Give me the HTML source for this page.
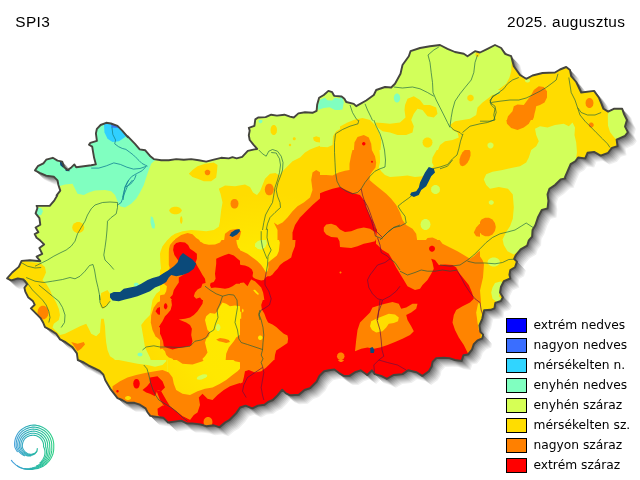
<!DOCTYPE html>
<html lang="hu"><head><meta charset="utf-8"><title>SPI3 2025. augusztus</title>
<style>
html,body{margin:0;padding:0;background:#fff;}
body{width:640px;height:480px;overflow:hidden;position:relative;font-family:"Liberation Sans",sans-serif;}
svg{position:absolute;left:0;top:0;display:block}
.t{font-family:"Liberation Sans",sans-serif;font-size:15.4px;letter-spacing:0.35px;fill:#000}
.l{font-family:"DejaVu Sans",sans-serif;font-size:12.25px;fill:#000}
</style></head><body>
<svg width="640" height="480" viewBox="0 0 640 480">
<rect width="640" height="480" fill="#fff"/>
<defs><polygon id="b" points="346.2,102 353.8,103.8 356.2,106.2 366.2,100.5 373.8,95 376.2,90 385,87 391.2,87.5 395,83.8 400.5,73.8 402.5,65 408.8,56.2 410.5,51.2 420,48 430,46.2 440,45 447.5,48.8 455,52 463.8,53.8 467.5,56.2 475,51.2 480,52.5 487.5,48.8 495,45 501.2,48 505,53.8 511.2,56.2 513.8,66.2 520,75 526.2,78.8 532.5,75.5 542.5,73 555,72.5 560,69.5 566.2,67 570,70 571.2,76.2 576.2,82 581.2,92.5 594.1,90.9 598.8,97.5 601.6,104.1 603.4,108.8 608.1,111.6 613.8,108.8 622.2,108.8 624.1,114.4 626.9,120 625,126.6 627.8,132.2 625,135.9 616.6,139.7 617.5,146.2 611.9,147.8 608.1,152.8 600.6,155.6 594.1,151.9 587.5,152.8 585.2,158.4 578.1,157.5 575.3,161.2 570.6,164.1 567.8,170.6 565,177.2 565.3,178.4 560.6,179.4 555,185 549.4,188.8 547.5,194.4 548.4,200.9 547.5,208.4 541.9,209.8 538.1,216.9 535.3,225.3 532.5,230 532.1,236.6 528.8,240.3 527.2,245.6 520.6,249.4 515.9,255 514.1,258.8 516.9,261.6 515,267.2 510.3,270 509.4,274.7 510.3,278.4 503.8,281.2 500.9,286.9 500,292.5 502.8,297.2 500.9,300.9 495.3,302.8 494.4,308.4 490.6,309.8 484.1,310.3 482.2,318.8 479.4,325.3 480.3,331.9 483.1,334.7 482.2,338.4 477.5,340.3 473.8,344.1 471.9,349.7 468.1,354.4 463.4,355.3 461.6,360.9 455,360 449.4,358.1 443.8,357.8 436.2,358.1 432.5,361.9 431.6,366.6 428.8,371.2 422.2,375.9 416.6,372.2 408.1,370.3 402.5,374.1 393.4,375 386.9,378.8 381.2,375.9 374.7,374.1 371.9,370.3 367.2,375 360.6,370.3 355,372.2 349.4,375.9 343.8,375.9 339.1,373.1 334.4,369.4 328.8,370.3 324.1,371.2 319.4,375.9 316.6,381.6 310,388.1 304.4,390 298.8,394.7 290.6,395.3 285.9,393.4 282.2,389.7 277.5,395.3 272.8,400 268.1,401.9 264.4,404.7 257.8,405.6 252.2,408.4 245.6,405.6 240,407.5 236.2,413.1 229.7,419.7 225,422.5 219.4,427.2 213.8,425.3 206.2,426.2 200.6,424.4 192.5,423.4 186.9,423.4 181.2,420.6 173.8,421.6 168.1,422.5 163.4,417.8 156.9,416.9 150.3,415.9 147.5,412.2 145.6,408.4 140,404.7 134.4,402.8 126.9,402.8 122.2,400 117.5,398.1 113.8,393.4 110.9,389.7 108.1,385 105.3,380.3 103.4,374.7 99.7,370.9 94.1,368.1 88.4,365.3 83.8,362.5 77.8,360 76.9,353.4 72.2,346.9 65.6,342.2 60,339.4 56.2,333.8 50.6,330 45,327.2 43.1,322.5 40.3,317.8 36.6,314.1 30.9,308.4 34.7,304.7 32.8,300.9 28.1,297.2 25.3,291.6 24.4,287.8 27.2,284.1 23.4,279.4 17.8,278.4 11.2,280.3 7.1,278.4 12.2,272.5 18.8,266.9 21.6,260.9 30,260.3 40.3,261.2 36.6,256.6 42.2,253.8 39.4,248.1 44.1,244.4 40.3,240.6 36.6,237.8 34.7,234.1 38.4,232.2 35.6,227.5 40.3,224.7 39.4,218.1 35.6,213.4 37.5,207.8 36.6,205.9 44.1,205.9 49.7,205.9 54.4,200.3 57.2,195.6 56.6,195.3 60.3,190.6 58.4,185 57.5,180.3 53.8,176.6 46.2,175.6 39.7,172.8 35,170.4 37.8,166.2 43.4,163.4 46.2,159.7 52.8,157.8 57.5,160.6 62.2,161.6 64.1,167.2 67.8,170 71.6,167.2 74.4,164.4 76.2,167.2 83.8,166.2 91.2,165.3 95.9,164.4 94.1,157.8 93.1,152.2 92.2,146.6 89,144.7 90.3,142.8 96.9,140.9 95.9,133.4 96.9,128.8 100.6,125 106.2,122.8 110.9,123.5 117.5,125.9 122.2,130.6 127.8,137.2 127.5,136.2 135,143.8 139.7,149.4 145.3,150.3 150,155.9 153.8,159.1 161.2,160.2 168.8,160.2 176.2,159.1 183.8,159.7 191.2,159.1 198.8,160.2 206.2,161.6 213.8,159.7 221.2,157.8 228.8,158.4 232.5,157.2 236.6,158.4 242.2,156.9 247.8,150.9 254.4,149.4 257.2,149 253.4,144.7 249.7,140 248.8,135.3 249.7,130.6 248.8,127.8 254.4,125.9 255.3,119.4 258.1,117.5 265.6,117.1 271.2,114.7 276.9,115.6 284.4,114.7 290,116.6 293.8,117.5 298.4,113.4 305,112.2 312.5,112.8 316.6,110.9 317.2,104.4 319.1,97.8 323.8,95 328.4,90.9 332.2,92.2 334.1,95.9 341.6,96.5 344.4,98.8"/><clipPath id="c"><use href="#b"/></clipPath></defs>
<g>
<use href="#b" transform="translate(9,9)" fill="rgb(239,239,239)"/>
<use href="#b" transform="translate(8,8)" fill="rgb(224,224,224)"/>
<use href="#b" transform="translate(7,7)" fill="rgb(208,208,208)"/>
<use href="#b" transform="translate(6,6)" fill="rgb(192,192,192)"/>
<use href="#b" transform="translate(5,5)" fill="rgb(175,175,175)"/>
<use href="#b" transform="translate(4,4)" fill="rgb(157,157,157)"/>
<use href="#b" transform="translate(3,3)" fill="rgb(139,139,139)"/>
<use href="#b" transform="translate(2,2)" fill="rgb(119,119,119)"/>
<use href="#b" transform="translate(1,1)" fill="rgb(95,95,95)"/>
</g>
<use href="#b" fill="#d2ff5a"/>
<g clip-path="url(#c)">
<defs><radialGradient id="yg" gradientUnits="userSpaceOnUse" cx="265" cy="320" r="150"><stop offset="0" stop-color="#ffea00"/><stop offset="0.5" stop-color="#ffe800"/><stop offset="0.85" stop-color="#ffdc00"/><stop offset="1" stop-color="#ffdc00"/></radialGradient></defs>
<clipPath id="t0"><rect x="0" y="120" width="160" height="120"/></clipPath>
<g clip-path="url(#t0)">
<polygon fill="#80ffc0" points="58.8,186.2 65,184.5 72.5,183.8 75,188.8 77.5,193.8 83.8,195 88.8,192.5 95,190.5 105,190 111.2,191.2 115,195 117.5,201.2 120,206.2 125,207.5 131.2,203.8 136.2,198.8 140,192.5 143.8,185 146.2,177.5 148.8,170 151.2,163.8 153.8,161.2 160,157.5 165,145 165,115 25,115 25,186.2"/>
<polygon fill="#80ffc0" points="35,207.5 41.2,208 43,211.2 41.2,215 35,216.2"/>
<polygon fill="#80ffc0" points="150.8,216.2 153,217.5 155,225 154.5,228.8 152,228 150.5,222.5"/>
<polygon fill="#30d0ff" points="103.8,122.5 104.5,132.5 107.5,138.8 112.5,142 118.8,141.2 123.8,138 127.5,135 122.5,127.5 117.5,122.5 111.2,120"/>
<polygon fill="url(#yg)" points="84.2,227.5 83.7,229.9 82,231.8 79.6,232.9 76.9,232.9 74.5,231.8 72.8,229.9 72.2,227.5 72.8,225.1 74.5,223.2 76.9,222.1 79.6,222.1 82,223.2 83.7,225.1"/>
<polygon fill="#3a78f0" points="111,124 118.5,124.5 119.5,128 111.5,127.5"/>
</g>
<clipPath id="t1"><rect x="160" y="120" width="160" height="120"/></clipPath>
<g clip-path="url(#t1)">
<polygon fill="url(#yg)" points="188.8,173.8 192.5,170 197.5,166.2 205,163.8 213.8,162.5 217.5,165 217,171.2 216.2,177.5 211.2,181.2 203.8,181.2 197.5,178.8 192.5,177"/>
<polygon fill="url(#yg)" points="277,130 276.7,132.2 275.8,133.9 274.5,134.9 273,134.9 271.7,133.9 270.8,132.2 270.5,130 270.8,127.8 271.7,126.1 273,125.1 274.5,125.1 275.8,126.1 276.7,127.8"/>
<polygon fill="url(#yg)" points="291.2,145 291.1,145.5 290.8,146 290.3,146.2 289.7,146.2 289.2,146 288.9,145.5 288.8,145 288.9,144.5 289.2,144 289.7,143.8 290.3,143.8 290.8,144 291.1,144.5"/>
<polygon fill="url(#yg)" points="295.8,138.8 295.6,139.4 295.2,139.9 294.6,140.2 293.9,140.2 293.3,139.9 292.9,139.4 292.8,138.8 292.9,138.1 293.3,137.6 293.9,137.3 294.6,137.3 295.2,137.6 295.6,138.1"/>
<polygon fill="url(#yg)" points="313,137.5 316.2,136.2 321.2,138 321.2,142.5 316.2,142 313.8,140.5"/>
<polygon fill="url(#yg)" points="181.8,210.5 181.1,212.1 179.4,213.4 176.9,214.2 174.1,214.2 171.6,213.4 169.9,212.1 169.2,210.5 169.9,208.9 171.6,207.6 174.1,206.8 176.9,206.8 179.4,207.6 181.1,208.9"/>
<polygon fill="url(#yg)" points="182.5,220 182.4,221.6 182,222.9 181.5,223.7 181,223.7 180.5,222.9 180.1,221.6 180,220 180.1,218.4 180.5,217.1 181,216.3 181.5,216.3 182,217.1 182.4,218.4"/>
<polygon fill="url(#yg)" points="167,242.5 167.5,240 171.2,236.2 175,233.8 182.5,231.2 191.2,230 198.8,230.5 206.2,231.2 213.8,230 218.8,226.8 220,221.2 220,220 221.2,210 222.5,202.5 220.5,193.8 218.8,188.8 225,185.5 235,186.2 245,184.5 250,187 253,192.5 257,195 260,191.2 262.5,185 265,178.8 270,173.8 275.5,173 279.5,175.5 282.5,171.2 287.5,166.2 292.5,161.2 300,157.5 305,152.5 310,149.5 315,147.5 322.5,145 322.5,242.5"/>
<polygon fill="#ff8400" points="210.2,172.5 210,173.7 209.2,174.7 208.1,175.2 206.9,175.2 205.8,174.7 205,173.7 204.8,172.5 205,171.3 205.8,170.3 206.9,169.8 208.1,169.8 209.2,170.3 210,171.3"/>
<polygon fill="#ff8400" points="273.8,189.5 273.3,192.1 272.1,194.2 270.3,195.3 268.2,195.3 266.4,194.2 265.2,192.1 264.8,189.5 265.2,186.9 266.4,184.8 268.2,183.7 270.3,183.7 272.1,184.8 273.3,186.9"/>
<polygon fill="#ff8400" points="238.5,203.8 238.1,205.9 237,207.7 235.4,208.6 233.6,208.6 232,207.7 230.9,205.9 230.5,203.8 230.9,201.6 232,199.8 233.6,198.9 235.4,198.9 237,199.8 238.1,201.6"/>
<polygon fill="#ff8400" points="273.8,222.5 277.5,225 282.5,222.5 287.5,217.5 292.5,211.2 297.5,206.2 303.8,202.5 310,197.5 312.5,190 311.2,180 312.5,172.5 316.2,170 322.5,173.8 322.5,242.5 277.5,242.5 277.5,230"/>
<polygon fill="#ff8400" points="223.8,242.5 225,233.8 230,230 237.5,228.8 241.2,231.2 240,236.2 237.5,242.5"/>
<polygon fill="#ff8400" points="175,242.5 175,239.2 181.2,235 187.5,233 192.5,234.2 196.2,238 201.2,241.2 202.5,242.5"/>
<polygon fill="#ff0000" points="292.5,242.5 292.5,232.5 295,225 300,217.5 306.2,211.2 312.5,205 322.5,196.2 322.5,242.5"/>
<polygon fill="#0b4a7a" points="229.5,235.5 231.2,232.5 235,230 239.5,229 240,231.2 237,234.5 232.5,237"/>
<polygon fill="#80ffc0" points="262.5,121.2 262.3,122.1 261.7,122.8 260.9,123.2 260.1,123.2 259.3,122.8 258.7,122.1 258.5,121.2 258.7,120.4 259.3,119.7 260.1,119.3 260.9,119.3 261.7,119.7 262.3,120.4"/>
</g>
<clipPath id="t2"><rect x="320" y="120" width="160" height="120"/></clipPath>
<g clip-path="url(#t2)">
<polygon fill="url(#yg)" points="318.8,118.8 481.2,118.8 481.2,241.2 318.8,241.2"/>
<polygon fill="#d2ff5a" points="318.8,118.8 353.8,118.8 351.2,122.5 345,126.2 336.2,131.2 333,136.2 332.5,145 327.5,147.2 318.8,146.8"/>
<polygon fill="#d2ff5a" points="400,135 390,138.8 382.5,140 377.5,142 376.2,145 379.5,150 380,157.5 380,162.5 378.8,167.5 381.2,171.2 385,175 390,177 400,176.2 407.5,175.5 415,177 422.5,176.2 427.5,171.2 433.8,166 432,162.5 432.5,157.5 435,153 437.5,148.8 438.8,144.5 442.5,142 447.5,139.5 450,135 450,127.5 451,122.5 453.8,120.5 460,119.5 467.5,117.5 467.5,115 413,115 414.5,125 411.2,130.5 405,133"/>
<polygon fill="#d2ff5a" points="376.2,118.8 400,118.8 400,121.2 395,123 385,123.5 378.8,122.5"/>
<polygon fill="url(#yg)" points="432.5,142.8 432,144.7 430.6,146.3 428.6,147.1 426.4,147.1 424.4,146.3 423,144.7 422.5,142.8 423,140.8 424.4,139.2 426.4,138.4 428.6,138.4 430.6,139.2 432,140.8"/>
<polygon fill="#d2ff5a" points="440,189.5 439.6,191.5 438.3,193 436.5,193.9 434.5,193.9 432.7,193 431.4,191.5 431,189.5 431.4,187.5 432.7,186 434.5,185.1 436.5,185.1 438.3,186 439.6,187.5"/>
<polygon fill="#d2ff5a" points="430.5,224.5 430,226.9 428.6,228.8 426.6,229.9 424.4,229.9 422.4,228.8 421,226.9 420.5,224.5 421,222.1 422.4,220.2 424.4,219.1 426.6,219.1 428.6,220.2 430,222.1"/>
<polygon fill="#ff8400" points="318.8,175 326.2,175 332.5,175.5 338.8,172.5 345,170.8 349.5,170 349.5,163.8 351.2,155 353.8,145 356.2,136.2 363.8,135.5 370,136.2 371.2,142.5 370,147 372.5,151.2 375,156.2 376.2,162.5 375.5,167.5 372.5,171.2 370,175 369.5,180 373.8,183.8 380,188.8 386.2,193.8 391.2,198.8 396.2,205 400,212.5 402.5,220 406.2,225 412.5,228.8 416.2,233.8 417.5,242.5 318.8,242.5"/>
<polygon fill="#ff8400" points="469.4,159.3 467.5,162.8 465,165.3 462.6,166.3 460.6,165.5 459.5,163.1 459.5,159.6 460.6,155.7 462.5,152.2 465,149.7 467.4,148.7 469.4,149.5 470.5,151.9 470.5,155.4"/>
<polygon fill="#ff8400" points="481.2,222 476.2,227.5 473.8,232.5 476.2,236.2 481.2,237"/>
<polygon fill="#ff8400" points="425,241.2 427.5,238 432.5,237.5 437,239.5 437.5,241.2"/>
<polygon fill="#ff0000" points="318.8,193.8 325,191.2 332.5,188.8 340,187 345,189.5 352.5,193 360,195 363.8,200 366.2,207.5 370,216.2 373.8,223.8 377,230 376.2,237 372.5,233.8 367.5,230 360,228.8 352.5,230 346.2,233.8 341.2,237.5 337.5,242.5 318.8,242.5"/>
<polygon fill="#ff8400" points="339.2,231.2 338.5,234.2 336.2,236.5 333,237.8 329.5,237.8 326.3,236.5 324,234.2 323.2,231.2 324,228.3 326.3,226 329.5,224.7 333,224.7 336.2,226 338.5,228.3"/>
<polygon fill="#ff0000" points="366.2,143.8 366.1,144.6 365.5,145.3 364.7,145.7 363.8,145.7 363,145.3 362.4,144.6 362.2,143.8 362.4,142.9 363,142.2 363.8,141.8 364.7,141.8 365.5,142.2 366.1,142.9"/>
<polygon fill="#ff0000" points="373,161.8 372.9,162.2 372.6,162.5 372.2,162.7 371.8,162.7 371.4,162.5 371.1,162.2 371,161.8 371.1,161.3 371.4,161 371.8,160.8 372.2,160.8 372.6,161 372.9,161.3"/>
<polygon fill="#0b4a7a" points="428.8,167 433.8,168.8 435,172.5 431.2,176.2 428.8,181.2 426.2,186.2 421.2,190 418.8,195 413.8,197 410,195 411.2,192.5 416.2,191.2 418.8,187.5 420,182.5 422.5,177.5 425,172.5"/>
</g>
<clipPath id="t3"><rect x="480" y="120" width="160" height="120"/></clipPath>
<g clip-path="url(#t3)">
<polygon fill="url(#yg)" points="478.8,118.8 641.2,118.8 641.2,241.2 478.8,241.2"/>
<polygon fill="#d2ff5a" points="535,128.8 540,126.2 547.5,127.5 555,125 563.8,123.8 568.8,126.2 572.5,122.5 575,127.5 574.5,135 576.2,142.5 577,152.5 576.2,157.5 585,170 555,242.5 503.5,242.5 502.5,239.5 506.2,232 510,226.2 512.8,218.8 513.8,207.5 512.8,194.5 508,188.8 498.8,187 490,188.8 486.2,185 483.8,179.5 486.2,174.2 492.5,171.8 502.5,170 511.2,168 520,166.2 526.2,162.5 528.8,157.5 531.2,150 536.2,146.2 538.8,141.2 536.2,135"/>
<polygon fill="#d2ff5a" points="608,111.5 607.8,118 608,125.5 610,132 613.8,137 616.5,139.8 622.5,140.5 642.5,135 642.5,111.5"/>
<polygon fill="#ff8400" points="506.2,118.8 507,123.8 511.2,128 517.5,130 523.8,127.5 528.8,123.8 531.5,118.8"/>
<polygon fill="#ff8400" points="593.8,125 593.5,126.1 592.8,127 591.8,127.4 590.7,127.4 589.7,127 589,126.1 588.8,125 589,123.9 589.7,123 590.7,122.6 591.8,122.6 592.8,123 593.5,123.9"/>
<polygon fill="#ff8400" points="495.8,227 494.9,231.1 492.5,234.4 488.9,236.3 485.1,236.3 481.5,234.4 479.1,231.1 478.2,227 479.1,222.9 481.5,219.6 485.1,217.7 488.9,217.7 492.5,219.6 494.9,222.9"/>
<polygon fill="#d2ff5a" points="493.5,145 493.2,146.5 492.4,147.7 491.2,148.4 489.8,148.4 488.6,147.7 487.8,146.5 487.5,145 487.8,143.5 488.6,142.3 489.8,141.6 491.2,141.6 492.4,142.3 493.2,143.5"/>
<polygon fill="#d2ff5a" points="493.8,202.5 493.5,203.5 492.8,204.3 491.8,204.7 490.7,204.7 489.7,204.3 489,203.5 488.8,202.5 489,201.5 489.7,200.7 490.7,200.3 491.8,200.3 492.8,200.7 493.5,201.5"/>
</g>
<clipPath id="t4"><rect x="480" y="0" width="160" height="120"/></clipPath>
<g clip-path="url(#t4)">
<polygon fill="url(#yg)" points="512,50 511.2,71.2 509.5,77.5 506.2,83.8 501.2,87.5 496.2,91.2 491.2,95 485,98.8 478.8,100.5 478.8,122.5 642.5,122.5 642.5,50"/>
<polygon fill="#d2ff5a" points="608,122.5 607.8,115 608.8,111.2 612.5,108.8 642.5,108.8 642.5,122.5"/>
<polygon fill="#ff8400" points="506.2,122.5 508,116.2 512.5,111.2 513.8,106.2 517.5,104.5 523.8,105 527.5,100 531.2,95 533.8,90 538.8,86.2 543.8,87 547,91.2 547,97.5 544.5,102.5 540,105 536.2,106.2 535.5,110 534.5,113.8 533.8,117.5 532,121.2 531.2,122.5"/>
<polygon fill="#ff8400" points="593.5,103 593.1,105.2 592,106.9 590.4,107.9 588.6,107.9 587,106.9 585.9,105.2 585.5,103 585.9,100.8 587,99.1 588.6,98.1 590.4,98.1 592,99.1 593.1,100.8"/>
<polygon fill="#d2ff5a" points="530,80.5 529.8,81.4 529.1,82.1 528.1,82.4 526.9,82.4 525.9,82.1 525.2,81.4 525,80.5 525.2,79.6 525.9,78.9 526.9,78.6 528.1,78.6 529.1,78.9 529.8,79.6"/>
</g>
<clipPath id="t5"><rect x="320" y="0" width="160" height="120"/></clipPath>
<g clip-path="url(#t5)">
<polygon fill="#80ffc0" points="318,110 323.8,108 329.5,107.2 335,110 340.5,110 344,107.2 343.5,102.5 340.5,98.8 335,97.8 332.2,100.5 327.5,100.2 324.8,97.8 320,99.8 318,104.5"/>
<polygon fill="#80ffc0" points="400,98.5 399.7,100.2 398.9,101.6 397.7,102.4 396.3,102.4 395.1,101.6 394.3,100.2 394,98.5 394.3,96.8 395.1,95.4 396.3,94.6 397.7,94.6 398.9,95.4 399.7,96.8"/>
<polygon fill="url(#yg)" points="403.8,122.5 405,113.8 406.2,105 408.8,98.8 413.8,97 418.8,100 422.5,105 427.5,106.2 433.8,106.2 437,110 436.2,116.2 431.2,118.8 425,116.2 420,113.8 416.2,116.2 414.5,122.5"/>
<polygon fill="url(#yg)" points="473.5,98 473.2,99.3 472.4,100.3 471.2,100.9 469.8,100.9 468.6,100.3 467.8,99.3 467.5,98 467.8,96.7 468.6,95.7 469.8,95.1 471.2,95.1 472.4,95.7 473.2,96.7"/>
<polygon fill="url(#yg)" points="457.5,105 457.4,105.5 457,106 456.5,106.2 456,106.2 455.5,106 455.1,105.5 455,105 455.1,104.5 455.5,104 456,103.8 456.5,103.8 457,104 457.4,104.5"/>
<polygon fill="url(#yg)" points="479.5,54.5 479.3,55.6 478.7,56.5 477.9,56.9 477.1,56.9 476.3,56.5 475.7,55.6 475.5,54.5 475.7,53.4 476.3,52.5 477.1,52.1 477.9,52.1 478.7,52.5 479.3,53.4"/>
<polygon fill="url(#yg)" points="482.5,100 477.5,102.5 475.5,110 470,113.8 463.8,115.5 460,118.8 458.8,122.5 482.5,122.5"/>
<polygon fill="url(#yg)" points="355,122.5 357.5,118 363.8,117 370,118 372.5,122.5"/>
</g>
<clipPath id="t6"><rect x="160" y="0" width="160" height="120"/></clipPath>
<g clip-path="url(#t6)">
<polygon fill="#80ffc0" points="318,110 323.8,108 323.8,97.8 320,99.8 318,104.5"/>
</g>
<clipPath id="t7"><rect x="0" y="240" width="160" height="120"/></clipPath>
<g clip-path="url(#t7)">
<polygon fill="url(#yg)" points="21.5,260 30,262 40.2,263 45,267 46,272.5 44,277 42.5,280 46.2,283.8 50,290 52.5,296.2 56.2,302.5 58.8,308.8 60,315 58.8,320 53.8,323.8 52.5,327.5 56.2,331.2 60,335 65,333.8 72.5,330 80,326.2 86.2,323.8 88.8,328.8 91.2,333.8 96.2,336.2 100,332.5 100.5,325 101.2,318.8 103.8,318.8 105,326.2 105.5,335 106.2,342.5 107.5,350 110,356.2 113.8,358.8 117.5,362.5 -1.2,362.5 -1.2,260"/>
<polygon fill="url(#yg)" points="101.2,293 107.5,290 110,293.8 110.5,301.2 107.5,305 103.8,308.8 100.5,307 100,300"/>
<polygon fill="url(#yg)" points="162.5,288.8 156.2,293.8 152.5,300 151.2,307.5 150,315 145,320 141.2,325 142.5,332.5 143.8,340 145,347.5 147.5,352.5 150,357.5 151.2,362.5 162.5,362.5"/>
<polygon fill="#ff8400" points="48.5,312.5 48,315.5 46.4,318 44.2,319.3 41.8,319.3 39.6,318 38,315.5 37.5,312.5 38,309.5 39.6,307 41.8,305.7 44.2,305.7 46.4,307 48,309.5"/>
<polygon fill="#ff8400" points="71.2,342 77.5,343.8 83.8,342 85,344.5 81.2,348.8 77.5,351.2 75,347.5"/>
<polygon fill="#ff8400" points="162.5,300 157.5,302.5 153.8,307.5 151.2,315 150.8,322.5 152.5,330 155.5,336.2 160,340 162.5,340"/>
<polygon fill="#ff0000" points="162.5,306.2 157.5,308 155.5,311.2 158,314.5 162.5,315"/>
<polygon fill="#ff0000" points="162.5,323.8 158.8,326.2 162.5,331.2"/>
<polygon fill="#80ffc0" points="138.8,284.5 138.5,285.3 137.8,285.9 136.8,286.2 135.7,286.2 134.7,285.9 134,285.3 133.8,284.5 134,283.7 134.7,283.1 135.7,282.8 136.8,282.8 137.8,283.1 138.5,283.7"/>
<polygon fill="#80ffc0" points="142.5,354.5 142.3,355.3 141.6,355.9 140.6,356.2 139.4,356.2 138.4,355.9 137.7,355.3 137.5,354.5 137.7,353.7 138.4,353.1 139.4,352.8 140.6,352.8 141.6,353.1 142.3,353.7"/>
</g>
<clipPath id="t8"><rect x="160" y="240" width="80" height="60"/></clipPath>
<g clip-path="url(#t8)">
<polygon fill="#ff8400" points="159.4,239.4 240.6,239.4 240.6,300.6 159.4,300.6"/>
<polygon fill="url(#yg)" points="159.4,239.4 175,239.4 172.5,241.9 170,245 169,248.8 168.8,252.5 168.8,265 169.8,268.1 167.5,271.2 159.4,276.2"/>
<polygon fill="url(#yg)" points="159.4,283.8 163.8,283.8 166.9,286.2 166.2,291.2 164.4,294.4 161.2,295 159.4,295.6"/>
<polygon fill="#d2ff5a" points="159.4,239.4 167.8,239.4 165,243.1 162.5,246.2 160.6,251.2 160,253.8 160.4,262.5 161,268.8 159.4,271.2"/>
<polygon fill="#ff0000" points="176.2,243.1 180,241.9 185,242.5 188.1,245 190,248.8 193.8,251.2 196.9,253.8 196.9,258.8 195.6,262.5 197.5,266.2 200,270.6 202.5,275 205,278.8 205.6,283.1 202.5,283.8 201.2,287.5 197.5,289.4 195,292.5 193.8,296.2 196.2,298.8 200,297.5 202.5,300.6 172.5,300.6 170,297.5 172.5,295 173.8,290 176.2,286.2 178.8,282.5 178.8,277.5 185,273.8 178.8,261.2 174.4,255 173.1,250 173.8,245.6"/>
<polygon fill="#ff0000" points="216.2,258.8 220,256.9 225,255 228.8,253.8 233.8,255.6 237.5,258.8 240.6,261.2 240.6,283.8 236.2,283.8 232.5,286.2 228.8,288.1 225,288.8 220,288.1 215,287.5 211.2,288.1 210,285.6 210.6,283.1 213.8,281.9 215.6,278.8 215,273.8 215.6,268.8 216.2,263.8"/>
<polygon fill="url(#yg)" points="198.8,239.4 200,241.2 203.8,243.8 208.8,244.8 215,244.4 220,242.5 221.9,239.4"/>
<polygon fill="url(#yg)" points="236.2,239.4 236.9,243.8 238.1,247.5 240.6,250 240.6,239.4"/>
</g>
<clipPath id="t9"><rect x="240" y="240" width="80" height="60"/></clipPath>
<g clip-path="url(#t9)">
<polygon fill="#ff0000" points="239.4,239.4 320.6,239.4 320.6,300.6 239.4,300.6"/>
<polygon fill="#ff8400" points="239.4,239.4 295.6,239.4 295,246.2 292.5,252.5 291.2,257.5 287.5,260 283.8,261.9 280,265 277.5,268.8 275,271.2 272.5,274.4 270,276.2 267.5,276.2 265.6,277.5 263.8,280 261.2,280.6 257.5,279.4 253.8,278.1 252.5,276.2 253.1,272.5 251.9,269.4 248.8,266.9 245,265.6 241.2,265 239.4,264.4"/>
<polygon fill="#ff8400" points="239.4,283.1 243.8,282.5 247.5,286.2 249.4,282.5 251.2,279.4 255,281.2 258.8,285 261.2,287.5 263.1,292.5 263.8,296.2 264.4,300.6 239.4,300.6"/>
<polygon fill="url(#yg)" points="239.4,239.4 278.8,239.4 279.8,242.5 279.4,246.2 278.8,251.2 276.9,255.6 273.8,258.1 270.6,260.6 268.1,262.5 268.5,267.5 267.5,271.2 265.6,271.9 263.8,268.8 261.2,265 257.5,261.2 252.5,257.5 247.5,253.8 243.8,251.9 239.4,250"/>
<polygon fill="#d2ff5a" points="255,243.8 257.5,241.2 260.6,240 266.2,240 266.9,243.8 265,247.5 261.2,249.8 257.5,248.8 255,246.2"/>
<polygon fill="url(#yg)" points="253.1,290 255,289.8 258.8,293.8 258.1,295 255.6,293.1"/>
</g>
<clipPath id="t10"><rect x="160" y="300" width="80" height="60"/></clipPath>
<g clip-path="url(#t10)">
<polygon fill="#ff8400" points="159.4,299.4 240.6,299.4 240.6,360.6 159.4,360.6"/>
<polygon fill="#ff0000" points="171.2,299.4 171.9,305 170.6,310 167.5,313.8 165,316.2 162.5,321.2 160,325 159.4,332.5 161.2,336.2 163.1,341.2 163.8,346.2 167.5,348.1 172.5,349.4 178.8,348.1 185,346.9 191.2,345.6 192.5,341.2 191.2,335 191.9,328.8 190,325 186.2,322.5 181.2,320.6 178.8,319.4 185,318.8 190,317.5 193.8,315 197.5,311.2 200,307.5 202.5,303.8 203.1,299.4"/>
<polygon fill="#ff0000" points="167.4,306.2 167.2,307.6 166.7,308.6 166,309.2 165.2,309.2 164.5,308.6 164,307.6 163.9,306.2 164,304.9 164.5,303.9 165.2,303.3 166,303.3 166.7,303.9 167.2,304.9"/>
<polygon fill="url(#yg)" points="222.5,302.5 220,306.2 217.5,311.2 215,313.8 210,313.1 206.2,316.2 205,320 206.2,325 207.5,330 210,332.5 208.8,336.2 206.2,338.8 205,342.5 206.2,347.5 207.5,352.5 205,356.2 202.5,358.8 203.1,360.6 225.6,360.6 226.2,353.8 228.8,347.5 233.8,341.2 236.2,337.5 240.6,334.4 240.6,306.2 235,305.6 230,306.2 226.2,303.8"/>
<polygon fill="#ff8400" points="216.2,339.4 220,338.1 225,338.8 228.8,340 230,341.9 226.2,343.1 222.5,341.9 218.8,341.2"/>
<polygon fill="#d2ff5a" points="220.4,327.5 220.2,329 219.5,330.2 218.6,330.9 217.6,330.9 216.7,330.2 216.1,329 215.9,327.5 216.1,326 216.7,324.8 217.6,324.1 218.6,324.1 219.5,324.8 220.2,326"/>
<polygon fill="url(#yg)" points="159.4,349.4 162.5,348.8 165,351.2 166.2,355 168.8,357.5 172.5,358.8 173.8,360.6 159.4,360.6"/>
</g>
<clipPath id="t11"><rect x="240" y="300" width="80" height="60"/></clipPath>
<g clip-path="url(#t11)">
<polygon fill="#ff0000" points="239.4,299.4 320.6,299.4 320.6,360.6 239.4,360.6"/>
<polygon fill="#ff8400" points="239.4,299.4 263.1,299.4 261.2,305 261.9,309.4 264.4,313.8 266.2,318.8 268.1,322.5 272.5,324.4 276.2,326.9 280,330.6 283.8,333.8 287.5,335.6 288.1,338.8 287.5,343.1 283.8,345.6 280,348.1 276.2,350.6 275,355 274.4,360.6 239.4,360.6"/>
<polygon fill="url(#yg)" points="262.5,337.8 262.3,338.7 261.7,339.5 260.8,339.9 259.7,339.9 258.8,339.5 258.2,338.7 258,337.8 258.2,336.8 258.8,336 259.7,335.6 260.8,335.6 261.7,336 262.3,336.8"/>
<polygon fill="url(#yg)" points="239.4,311.2 241.2,311.9 241.2,318.8 239.4,318.8"/>
<polygon fill="url(#yg)" points="243.5,310.6 243.4,311.4 243.2,312.1 242.9,312.5 242.6,312.5 242.3,312.1 242.1,311.4 242,310.6 242.1,309.8 242.3,309.2 242.6,308.8 242.9,308.8 243.2,309.2 243.4,309.8"/>
</g>
<clipPath id="t12"><rect x="320" y="240" width="160" height="120"/></clipPath>
<g clip-path="url(#t12)">
<polygon fill="#ff0000" points="318.8,238.8 481.2,238.8 481.2,361.2 318.8,361.2"/>
<polygon fill="#ff8400" points="338.8,238.8 340,245 345,247 355,245.5 365,243.8 372.5,241.2 377.5,245 382.5,250 388.8,253.8 392.5,260 396.2,267.5 400,273.8 403.8,280 407.5,286.2 415,290 420,288.8 422.5,285 427.5,280 431.2,273.8 433.8,268.8 432.5,262.5 431.2,258.8 435,260 438.8,265 445,264.5 452.5,265 456.2,267.5 458.8,272.5 463.8,278.8 468.8,285 472,292.5 473.8,298.8 470,302.5 462.5,306.2 456.2,310 453.8,315 452.5,322.5 455,330 458.8,337.5 463.8,345 467.5,352.5 470,355 481.2,355 481.2,238.8"/>
<polygon fill="url(#yg)" points="438.8,238.8 442.5,243.8 450,247.5 457.5,251.2 463.8,255 470,258.8 473.8,256.2 477.5,252.5 481.2,250 481.2,238.8"/>
<polygon fill="#ff0000" points="435,248.8 434.7,250.1 433.9,251.1 432.7,251.7 431.3,251.7 430.1,251.1 429.3,250.1 429,248.8 429.3,247.4 430.1,246.4 431.3,245.8 432.7,245.8 433.9,246.4 434.7,247.4"/>
<polygon fill="#ff8400" points="355,351.2 356.2,340 357.5,330 360,322.5 365,317.5 370,312.5 372.5,307.5 378.8,305.5 385,303.8 392.5,302 398.8,303.8 401.2,308.8 406.2,307.5 412.5,303.8 417.5,303.8 416.2,308.8 411.2,312.5 406.2,315 407.5,320 411.2,326.2 413.8,331.2 410,335 402.5,338.8 395,342 387.5,345 380,347.5 373.8,348.8 367.5,347.5 361.2,348.8"/>
<polygon fill="url(#yg)" points="370,326.2 371.2,321.2 376.2,318.8 382.5,316.2 388.8,313.8 395,314.5 398.8,317.5 398,321.2 393.8,323 388.8,323.8 386.2,327.5 382.5,331.2 376.2,332.5 372,330"/>
<polygon fill="url(#yg)" points="481.2,301.2 478,303.8 476.2,312.5 477.5,322.5 478.8,330 481.2,331.2"/>
<polygon fill="#ff8400" points="344.5,356.2 344.1,357.9 343.1,359.2 341.6,359.9 339.9,359.9 338.4,359.2 337.4,357.9 337,356.2 337.4,354.6 338.4,353.3 339.9,352.6 341.6,352.6 343.1,353.3 344.1,354.6"/>
<polygon fill="#ff8400" points="341.5,272.5 341.4,272.9 341.1,273.3 340.7,273.5 340.3,273.5 339.9,273.3 339.6,272.9 339.5,272.5 339.6,272.1 339.9,271.7 340.3,271.5 340.7,271.5 341.1,271.7 341.4,272.1"/>
<polygon fill="#0b4a7a" points="370,348 372.5,347 374.5,350 373.8,353 370.5,353"/>
</g>
<clipPath id="t13"><rect x="480" y="240" width="160" height="120"/></clipPath>
<g clip-path="url(#t13)">
<polygon fill="url(#yg)" points="478.8,238.8 641.2,238.8 641.2,361.2 478.8,361.2"/>
<polygon fill="#d2ff5a" points="502.5,238.8 503.8,245 507.5,251.2 513.8,254.5 520,250 526.2,245 530,238.8"/>
<polygon fill="#d2ff5a" points="500,262 499.4,264 497.6,265.5 495.1,266.4 492.4,266.4 489.9,265.5 488.1,264 487.5,262 488.1,260 489.9,258.5 492.4,257.6 495.1,257.6 497.6,258.5 499.4,260"/>
<polygon fill="#d2ff5a" points="492.5,287.5 495,283 501.2,281.2 503.8,286.2 500,291.2 498.8,296.2 502.5,300 497.5,302.5 492.5,298.8 491.2,292.5"/>
<polygon fill="#ff8400" points="478.8,255 482.5,260 484,264 483,277.5 480,290.5 481,302 478.5,311 480,320 481.2,330 478.8,361.2"/>
</g>
<clipPath id="t14"><rect x="0" y="360" width="240" height="120"/></clipPath>
<g clip-path="url(#t14)">
<polygon fill="url(#yg)" points="78.8,338.8 167.5,338.8 167.5,461.2 78.8,461.2"/>
<polygon fill="url(#yg)" points="167.5,338.8 241.2,338.8 241.2,461.2 167.5,461.2"/>
<polygon fill="#d2ff5a" points="107.5,355 112.5,358.8 125,361.2 137.5,363.8 147.5,365 155,366.8 162.5,365 166.2,361.2 166.2,355"/>
<polygon fill="#ff8400" points="112.5,386.2 120,381.2 127.5,377.5 136.2,375 145,373 155,371.2 162.5,370 168.8,372.5 172.5,377.5 173.8,383.8 176.2,390 182.5,393.8 190,395 197.5,391.2 205,388.8 212.5,387.5 220,383.8 226.2,380 232.5,375 237.5,371.2 241.2,367.5 241.2,462.5 112.5,462.5"/>
<polygon fill="#ff8400" points="166.2,355 175,358.8 182.5,363.8 192.5,364.5 202.5,361.2 207.5,356.2 208.8,350"/>
<polygon fill="#ff8400" points="226.2,350 230,357.5 235,361.2 241.2,362.5 241.2,340"/>
<polygon fill="#ff0000" points="139.8,383.8 139.4,385.9 138.5,387.7 137.2,388.6 135.8,388.6 134.5,387.7 133.6,385.9 133.2,383.8 133.6,381.6 134.5,379.8 135.8,378.9 137.2,378.9 138.5,379.8 139.4,381.6"/>
<polygon fill="#ff0000" points="150,377.5 157.5,376.2 162.5,381.2 165,387.5 161.2,391.2 157.5,390 155,396.2 150,393.8 146.2,392.5 142.5,390 147,386.2 150,382.5"/>
<polygon fill="#ff0000" points="156.2,390 161.2,391.2 166.2,400 170,406.2 176.2,411.2 182.5,416.2 190,420 187.5,423.8 180,421.2 172.5,415 165,407.5 160,400"/>
<polygon fill="#ff0000" points="157.5,408.8 162.5,405.5 170,407 176.2,411.2 182.5,416.2 190,420 191.2,423.8 185,425 177.5,421.2 170,422.5 163.8,420 158,415"/>
<polygon fill="#ff0000" points="190,420 193.8,415 197.5,412.5 200,405 198.8,397.5 202.5,393.8 207.5,398.8 212.5,400 217.5,395 223.8,390 230,386.2 237.5,383.8 241.2,382.5 241.2,462.5 190,462.5"/>
<polygon fill="#ff8400" points="212.5,422 212.1,424.2 210.8,425.9 209,426.9 207,426.9 205.2,425.9 203.9,424.2 203.5,422 203.9,419.8 205.2,418.1 207,417.1 209,417.1 210.8,418.1 212.1,419.8"/>
<polygon fill="#ff0000" points="118.8,391.2 118.6,391.8 118.3,392.2 117.8,392.5 117.2,392.5 116.7,392.2 116.4,391.8 116.2,391.2 116.4,390.7 116.7,390.3 117.2,390 117.8,390 118.3,390.3 118.6,390.7"/>
<polygon fill="url(#yg)" points="131,398 130.7,398.9 129.9,399.6 128.7,399.9 127.3,399.9 126.1,399.6 125.3,398.9 125,398 125.3,397.1 126.1,396.4 127.3,396.1 128.7,396.1 129.9,396.4 130.7,397.1"/>
<polygon fill="#d2ff5a" points="207.2,375.1 207,376.2 205.8,377.5 203.9,378.6 201.6,379.5 199.4,379.8 197.7,379.6 196.8,378.9 197,377.8 198.2,376.5 200.1,375.4 202.4,374.5 204.6,374.2 206.3,374.4"/>
</g>
<clipPath id="t15"><rect x="240" y="360" width="160" height="120"/></clipPath>
<g clip-path="url(#t15)">
<polygon fill="#ff0000" points="238.8,338.8 401.2,338.8 401.2,461.2 238.8,461.2"/>
<polygon fill="#ff8400" points="238.8,338.8 287.5,338.8 286.2,345 281.2,350 275,353.8 273.8,360 270,363.8 266.2,367.5 261.2,371.2 255,372.5 248.8,370 245,371.2 243.8,377.5 242.5,382.5 238.8,383.8"/>
<polygon fill="#ff8400" points="344.8,357.5 344.4,359.5 343.3,361 341.8,361.9 340.2,361.9 338.7,361 337.6,359.5 337.2,357.5 337.6,355.5 338.7,354 340.2,353.1 341.8,353.1 343.3,354 344.4,355.5"/>
<polygon fill="#ff8400" points="355,338.8 355.5,347.5 358.8,351.2 363.8,348.8 370,352.5 376.2,350.5 382.5,346.2 390,342.5 396.2,338.8"/>
</g>
<clipPath id="t16"><rect x="400" y="360" width="80" height="120"/></clipPath>
<g clip-path="url(#t16)">
<polygon fill="#ff0000" points="398.8,358.8 561.2,358.8 561.2,481.2 398.8,481.2"/>
</g>
<clipPath id="t17"><rect x="340" y="90" width="160" height="60"/></clipPath>
<g clip-path="url(#t17)">
<polygon fill="#d2ff5a" points="338.8,28.8 501.2,28.8 501.2,151.2 338.8,151.2"/>
<polygon fill="#80ffc0" points="400.2,98 399.9,100 399,101.5 397.7,102.4 396.3,102.4 395,101.5 394.1,100 393.8,98 394.1,96 395,94.5 396.3,93.6 397.7,93.6 399,94.5 399.9,96"/>
<polygon fill="#80ffc0" points="338.8,96.2 342.5,97 343.8,102.5 342.5,109.5 338.8,110"/>
<polygon fill="url(#yg)" points="338.8,127 347.5,122.5 355,119.5 362.5,118 370,120 375,125 378.8,132.5 381.2,140 380.5,151.2 338.8,151.2"/>
<polygon fill="url(#yg)" points="405,105 407.5,98.8 413.8,96.2 420,100 423.8,105 430,105 436.2,107.5 437.5,113.8 433.8,117.5 427.5,116.2 422.5,110 417.5,108.8 413.8,113.8 411.2,120 413.8,126.2 412.5,132.5 406.2,135 397.5,135 390,132.5 382.5,131.2 377.5,127.5 375,122.5 382.5,123 390,123.8 400,122.5 405.5,117.5 404.5,110"/>
<polygon fill="url(#yg)" points="501.2,93.8 492.5,95 487.5,98.8 482.5,102.5 477.5,107.5 476.2,115 470,118.8 462.5,120 455,121.2 450,125 452.5,130 457.5,132.5 458.8,137.5 452.5,140 445,141.2 440,145 437.5,151.2 501.2,151.2"/>
<polygon fill="url(#yg)" points="473.8,98 473.4,99.4 472.5,100.5 471.2,101.2 469.8,101.2 468.5,100.5 467.6,99.4 467.2,98 467.6,96.6 468.5,95.5 469.8,94.8 471.2,94.8 472.5,95.5 473.4,96.6"/>
<polygon fill="url(#yg)" points="432.5,142.5 432,144.7 430.6,146.4 428.6,147.4 426.4,147.4 424.4,146.4 423,144.7 422.5,142.5 423,140.3 424.4,138.6 426.4,137.6 428.6,137.6 430.6,138.6 432,140.3"/>
<polygon fill="#ff8400" points="353.8,151.2 354.5,142.5 357.5,137 363.8,135 368.8,137.5 371.2,143.8 372,151.2"/>
<polygon fill="#ff0000" points="365.5,143.8 365.3,144.5 364.8,145.1 364.1,145.5 363.4,145.5 362.7,145.1 362.2,144.5 362,143.8 362.2,143 362.7,142.4 363.4,142 364.1,142 364.8,142.4 365.3,143"/>
<polygon fill="#d2ff5a" points="493.5,145.5 493.2,146.8 492.4,147.8 491.2,148.4 489.8,148.4 488.6,147.8 487.8,146.8 487.5,145.5 487.8,144.2 488.6,143.2 489.8,142.6 491.2,142.6 492.4,143.2 493.2,144.2"/>
</g>
<clipPath id="t18"><rect x="320" y="220" width="56" height="30"/></clipPath>
<g clip-path="url(#t18)">
<polygon fill="#ff0000" points="238.8,198.8 401.2,198.8 401.2,321.2 238.8,321.2"/>
<polygon fill="#ff8400" points="323.8,227.5 326.2,224.5 331.2,223.8 336.2,225.5 340,229.5 345,232 351.2,231.2 357.5,228.8 363.8,227.5 370,228.8 375,232 377,237.5 375,241.2 370,242.5 363.8,243.8 357.5,246.2 351.2,248 345,247.5 340,247 339.5,241.2 337.5,237.5 331.2,237 326.2,234.5 323.8,231.2"/>
<polygon fill="#ff8400" points="372,218.8 376.2,231.2 377,240 378.8,251.2 383.8,251.2 383.8,218.8"/>
</g>
</g>
<g clip-path="url(#c)">
<polygon fill="#0b4a7a" points="110,293.8 113.8,292 120,292 123.8,288.8 130,287.5 136.2,286.2 141.2,283.8 147.5,280 152.5,278 158.8,276.2 163.8,273 168.8,270 173.8,266.2 177.5,262.5 180,256.2 183,253 187.5,256.2 192.5,259.5 196.2,263.8 193.8,268.8 188.8,272.5 182.5,275 176.2,276.2 171.2,275 168.8,277.5 166.2,282 161.2,285 155,287.5 150,291.2 143.8,293.8 137.5,296.2 131.2,298 125,299.5 118.8,301.2 112.5,300.5 110,297.5"/>
<polygon fill="#0b4a7a" points="59.8,161.6 62.2,162.5 64.1,166.2 62.8,167.4 60.3,165.3"/>
<polygon fill="#0b4a7a" points="65,169.2 69.1,169.6 69.7,171.3 65.9,171.1"/>
<polyline fill="none" stroke="#1a8a96" stroke-opacity="0.85" stroke-width="1.0" stroke-linejoin="round" points="111.9,126.9 112.8,134.4 115.6,140 114.7,143.8 118.4,146.6 122.2,148.4 125.9,149.4 129.7,152.2 133.4,155 136.2,157.8 139.1,160.6 141.9,163.4 145.6,165.3 147.5,166.2"/>
<polyline fill="none" stroke="#1a8a96" stroke-opacity="0.85" stroke-width="1.0" stroke-linejoin="round" points="91.2,168.1 98.8,168.1 106.2,165.9 113.8,162.9 120.3,164.4 126.9,167.2 133.4,169.1 140,168.5 146.6,166.2"/>
<polyline fill="none" stroke="#1a8a96" stroke-opacity="0.85" stroke-width="1.0" stroke-linejoin="round" points="123.1,200 124.1,192.5 125,186.9 127.8,181.2 131.6,176.6 136.2,173.8 141.9,170.9 145.6,167.2"/>
<polyline fill="none" stroke="#1a8a96" stroke-opacity="0.85" stroke-width="1.0" stroke-linejoin="round" points="125.9,186.9 130.6,184.1 134.4,179.4 136.2,174.7"/>
<polyline fill="none" stroke="#1a8a96" stroke-opacity="0.85" stroke-width="1.0" stroke-linejoin="round" points="132.5,180 127.5,186.2 123.8,195 121.2,202.5 117.5,205"/>
<polyline fill="none" stroke="#1a8a96" stroke-opacity="0.85" stroke-width="1.0" stroke-linejoin="round" points="128.8,180 125,187.5 122.5,197.5"/>
<polyline fill="none" stroke="#0f5a46" stroke-opacity="0.62" stroke-width="1.0" stroke-linejoin="round" points="117.5,202.5 110,202 102.5,202.5 95,205 91.2,208.8 87.5,215 85,221.2 81.2,227.5 77.5,233.8 75,241.2 71.2,246.2 66.2,250 60,253 53.8,256.2 47.5,260 42.5,262.5 37.5,265 35,266.2"/>
<polyline fill="none" stroke="#0f5a46" stroke-opacity="0.62" stroke-width="1.0" stroke-linejoin="round" points="117.5,202.5 117.5,207.5 116.2,213.8 111.2,217.5 107.5,221.2 107,230 106.2,238.8 105,247.5 103.8,255 105,260 110,265 113.8,269.5"/>
<polyline fill="none" stroke="#0f5a46" stroke-opacity="0.62" stroke-width="1.0" stroke-linejoin="round" points="26.2,277.5 35,281.2 43.8,282.5 52.5,281.2 62.5,279.5 70,277.5 75,278.8 80,276.2 85,271.2 89.5,265.5 93,264.5 94.5,270 96.2,280 98,287.5 99.5,295 100,300"/>
<polyline fill="none" stroke="#0f5a46" stroke-opacity="0.62" stroke-width="1.0" stroke-linejoin="round" points="21.2,262.5 27.5,266.2 35,268 41.2,267.5"/>
<polyline fill="none" stroke="#0f5a46" stroke-opacity="0.62" stroke-width="1.0" stroke-linejoin="round" points="25,280 28.8,285 32.5,290 37.5,295 42.5,300"/>
<polyline fill="none" stroke="#0f5a46" stroke-opacity="0.62" stroke-width="1.0" stroke-linejoin="round" points="258.8,150 262.5,153.8 266.2,156.2 268.8,151.2 272.5,149.5 277.5,151.2 281.2,156.2 283,162.5 282.5,170 280.5,176.2 278,182.5 276.2,190 277.5,196.2 280,202.5 280.5,207.5 275,212.5 270,217.5 267.5,223.8 266.2,230"/>
<polyline fill="none" stroke="#0f5a46" stroke-opacity="0.62" stroke-width="1.0" stroke-linejoin="round" points="271.2,152.5 276.2,153 279.5,158.8 280.5,165 279.5,172.5 277.5,180 275,187.5 273.8,195 272.5,202.5 268.8,208.8 265.5,215 263.8,222.5 262.5,230"/>
<polyline fill="none" stroke="#0f5a46" stroke-opacity="0.62" stroke-width="1.0" stroke-linejoin="round" points="438.8,47 433.8,50 428,55 430,62.5 431.2,72.5 432.5,82.5 433,92.5 436.2,100 440,107.5 443.8,115 447.5,122.5 450,127.5"/>
<polyline fill="none" stroke="#0f5a46" stroke-opacity="0.62" stroke-width="1.0" stroke-linejoin="round" points="393.8,87 402.5,88 412.5,87 420,88.8 427.5,92.5 433.8,96.2"/>
<polyline fill="none" stroke="#0f5a46" stroke-opacity="0.62" stroke-width="1.0" stroke-linejoin="round" points="477.5,55 475,62.5 473.8,72.5 471.2,80 465,87.5 460,93.8 455,101.2 452.5,110 451.2,117.5 450,126.2"/>
<polyline fill="none" stroke="#0f5a46" stroke-opacity="0.62" stroke-width="1.0" stroke-linejoin="round" points="450,126.2 453.8,130 460,132.5 462.5,135"/>
<polyline fill="none" stroke="#0f5a46" stroke-opacity="0.62" stroke-width="1.0" stroke-linejoin="round" points="462.5,132.5 470,126.2 480,123.8 487.5,122.5 493.8,120 496.2,112.5 495,106.2 490,102.5 492.5,96.2 500,92.5"/>
<polyline fill="none" stroke="#0f5a46" stroke-opacity="0.62" stroke-width="1.0" stroke-linejoin="round" points="365,103.8 367.5,110 371.2,117.5 372.5,120.5"/>
<polyline fill="none" stroke="#0f5a46" stroke-opacity="0.62" stroke-width="1.0" stroke-linejoin="round" points="350,105 352.5,112.5 356.2,118.8 358,120.5"/>
<polyline fill="none" stroke="#0f5a46" stroke-opacity="0.62" stroke-width="1.0" stroke-linejoin="round" points="518.8,77.5 512.5,80 507.5,83.8 503.8,88.8 498.8,92.5 493.8,96.2 490,100 491.2,105 495,108.8 493.8,115 495,120 490,121.2 480,121.2"/>
<polyline fill="none" stroke="#0f5a46" stroke-opacity="0.62" stroke-width="1.0" stroke-linejoin="round" points="491.2,102.5 500,101.2 510,100 518.8,100 526.2,98 532.5,95 540,91.2 546.2,87.5 551.2,83.8 556.2,80 558,73.8"/>
<polyline fill="none" stroke="#0f5a46" stroke-opacity="0.62" stroke-width="1.0" stroke-linejoin="round" points="568.8,77.5 570,85 571.2,92.5 575,100 577.5,107.5 581.2,112.5 587.5,115 595,115 601.2,112.5"/>
<polyline fill="none" stroke="#0f5a46" stroke-opacity="0.62" stroke-width="1.0" stroke-linejoin="round" points="577.5,107.5 580,115 585,121.2 590,126.2 596.2,132.5 602.5,138.8 607.5,143.8 610,147.5"/>
<polyline fill="none" stroke="#0f5a46" stroke-opacity="0.62" stroke-width="1.0" stroke-linejoin="round" points="358.8,120 358,123.8 350,126.2 342.5,129.5 335.5,133.8 334.5,142.5 334.5,152.5 335,162.5 335.5,172.5 337,181.2 340,187 346.2,191.2 352.5,193.8 357.5,192.5 361.2,188.8 365,182.5 370,176.2 375,171.2 380,168.8 385,167 385.5,160 384.5,150 382.5,141.2 380,133.8 376.2,126.2 373.8,120"/>
<polyline fill="none" stroke="#701040" stroke-opacity="0.7" stroke-width="1.0" stroke-linejoin="round" points="361.2,188.8 362.5,195 364.5,201.2 366.2,207.5 368.8,213.8 371.2,220 373,226.2 374.5,232.5 375.5,236.2"/>
<polyline fill="none" stroke="#0f5a46" stroke-opacity="0.62" stroke-width="1.0" stroke-linejoin="round" points="375.5,236.2 382.5,238.8"/>
<polyline fill="none" stroke="#0f5a46" stroke-opacity="0.62" stroke-width="1.0" stroke-linejoin="round" points="380,240 383.8,236.2 388.8,231.2 393.8,227.5 400,226.2 406.2,223 405,216.2 401.2,211.2 398,206.2 402.5,202.5 408.8,198 412.5,195"/>
<polyline fill="none" stroke="#0f5a46" stroke-opacity="0.62" stroke-width="1.0" stroke-linejoin="round" points="432.5,168.8 440,167 447.5,164.5 452.5,158.8 457,155 458.8,148.8 460.5,141.2 463,133.8"/>
<polyline fill="none" stroke="#0f5a46" stroke-opacity="0.62" stroke-width="1.0" stroke-linejoin="round" points="440,265 450,266.2 460,265 467.5,260 473.8,255 480,248.8 486.2,242.5 492.5,237.5 500,233.8 507.5,232 515,230 521.2,226.2 526.2,223 530,225.5 533,227.5"/>
<polyline fill="none" stroke="#0f5a46" stroke-opacity="0.62" stroke-width="1.0" stroke-linejoin="round" points="467.5,261.2 475,263 485,263 495,263.8 502.5,262.5 508.8,259.5 515,259.2"/>
<polyline fill="none" stroke="#0f5a46" stroke-opacity="0.62" stroke-width="1.0" stroke-linejoin="round" points="440,168.8 447.5,166.2 452.5,160"/>
<polyline fill="none" stroke="#0f5a46" stroke-opacity="0.62" stroke-width="1.0" stroke-linejoin="round" points="99.5,295 100,302.5 102.5,308 106.2,306.2 110,301.2"/>
<polyline fill="none" stroke="#0f5a46" stroke-opacity="0.62" stroke-width="1.0" stroke-linejoin="round" points="42.5,300 46.2,305 48.8,311.2 50,317.5 48.8,322.5"/>
<polyline fill="none" stroke="#0f5a46" stroke-opacity="0.62" stroke-width="1.0" stroke-linejoin="round" points="38.8,285 45,290 52.5,296.2 58.8,301.2 62.5,307.5 65,315 64.5,322.5 61.2,327.5"/>
<polyline fill="none" stroke="#0f5a46" stroke-opacity="0.62" stroke-width="1.0" stroke-linejoin="round" points="267.5,228.8 267,237.5 268.8,245 271.2,250 268,256.2 267.5,265 266.2,272.5"/>
<polyline fill="none" stroke="#701040" stroke-opacity="0.7" stroke-width="1.0" stroke-linejoin="round" points="266.2,272.5 265,278.8 265,285 268.8,291.2 271.2,298.8 269.5,305 263.8,308.8 261.2,310"/>
<polyline fill="none" stroke="#0f5a46" stroke-opacity="0.62" stroke-width="1.0" stroke-linejoin="round" points="261.2,310 258.8,315 260,320"/>
<polyline fill="none" stroke="#0f5a46" stroke-opacity="0.62" stroke-width="1.0" stroke-linejoin="round" points="261.2,231.2 261.2,240 262.5,247.5 265,253.8 267,258.8"/>
<polyline fill="none" stroke="#701040" stroke-opacity="0.7" stroke-width="1.0" stroke-linejoin="round" points="363.8,200 367.5,206.2 370,212.5 372.5,220 375,226.2 376.2,231.2 382.5,237.5"/>
<polyline fill="none" stroke="#0f5a46" stroke-opacity="0.62" stroke-width="1.0" stroke-linejoin="round" points="382.5,237.5 387.5,232.5 393.8,227.5 400,225"/>
<polyline fill="none" stroke="#701040" stroke-opacity="0.7" stroke-width="1.0" stroke-linejoin="round" points="377.5,237.5 380,245 381.2,252.5 387.5,256.2 390,258.8 385,262.5 377.5,265 373.8,270 370,275 367.5,280 368.8,287.5 372.5,293.8 377.5,298.8 382.5,300 381.2,305 378.8,311.2 377.5,320"/>
<polyline fill="none" stroke="#701040" stroke-opacity="0.7" stroke-width="1.0" stroke-linejoin="round" points="382.5,300 390,296.2 396.2,291.2 400,286.2"/>
<polyline fill="none" stroke="#0f5a46" stroke-opacity="0.62" stroke-width="1.0" stroke-linejoin="round" points="390,258.8 395,262.5 400,270"/>
<polyline fill="none" stroke="#0f5a46" stroke-opacity="0.62" stroke-width="1.0" stroke-linejoin="round" points="205,286.2 210,290 216.2,293.8 222.5,296.2 228.8,294.5 233.8,295 237,300 237.5,307.5 236.2,315 235,322.5 237.5,330 238.8,338.8 241.2,342.5 247.5,344.5 255,347 262.5,349.5"/>
<polyline fill="none" stroke="#0f5a46" stroke-opacity="0.62" stroke-width="1.0" stroke-linejoin="round" points="222.5,296.2 220,303.8 217,310 218,317.5 215.5,323.8 213.8,330 208.8,333 206.2,337.5 201.2,340 195,341.2 190,346.2 180,347.5 170,347 160,347"/>
<polyline fill="none" stroke="#0f5a46" stroke-opacity="0.62" stroke-width="1.0" stroke-linejoin="round" points="260,310 258.8,313.8 261.2,320 263,327.5 263.8,335 263,342.5 262.5,350 261.2,355 263,358.8 261.2,362.5 262.5,366.2"/>
<polyline fill="none" stroke="#701040" stroke-opacity="0.7" stroke-width="1.0" stroke-linejoin="round" points="262.5,366.2 263.8,372.5 262.5,380 261.2,387.5 262.5,395 263.8,400"/>
<polyline fill="none" stroke="#701040" stroke-opacity="0.7" stroke-width="1.0" stroke-linejoin="round" points="262.5,367.5 255,372.5 247.5,377.5 243.8,385 242.5,391.2 246.2,397.5"/>
<polyline fill="none" stroke="#0f5a46" stroke-opacity="0.62" stroke-width="1.0" stroke-linejoin="round" points="160,347 153.8,345.8 146.2,347 142.5,350"/>
<polyline fill="none" stroke="#0f5a46" stroke-opacity="0.62" stroke-width="1.0" stroke-linejoin="round" points="143.8,365 147,368.8 148.8,375 150.5,382.5 153,390 155.5,395 158.8,400 165,403.8 171.2,407.5 177.5,412.5 182.5,417.5 187.5,421.2"/>
<polyline fill="none" stroke="#0f5a46" stroke-opacity="0.62" stroke-width="1.0" stroke-linejoin="round" points="400,271.2 407.5,275 415,272.5 421.2,270 427.5,271.2 435,271.2 442.5,270 450,271.2 457.5,270"/>
<polyline fill="none" stroke="#701040" stroke-opacity="0.7" stroke-width="1.0" stroke-linejoin="round" points="457.5,271.2 461.2,277.5 465,285 470,292.5 475,298.8 480,302.5 481.2,310 483.8,317.5"/>
<polyline fill="none" stroke="#701040" stroke-opacity="0.7" stroke-width="1.0" stroke-linejoin="round" points="380,300 378.8,310 377,320 380,330 381.2,340 382,350 383.8,356.2 378.8,360 373.8,365 374.5,372.5 375,377.5"/>
<polyline fill="none" stroke="#701040" stroke-opacity="0.7" stroke-width="1.0" stroke-linejoin="round" points="378.8,360 387.5,362.5 397.5,365 406.2,370 407.5,372.5"/>
</g>
<use href="#b" fill="none" stroke="#45453e" stroke-width="1.9" stroke-linejoin="round"/>
<rect x="506.5" y="318.5" width="20" height="14" fill="#0000ff" stroke="#000" stroke-width="1"/>
<text class="l" x="533.5" y="329.3">extrém nedves</text>
<rect x="506.5" y="338.5" width="20" height="14" fill="#3a6eff" stroke="#000" stroke-width="1"/>
<text class="l" x="533.5" y="349.3">nagyon nedves</text>
<rect x="506.5" y="358.5" width="20" height="14" fill="#30d5ff" stroke="#000" stroke-width="1"/>
<text class="l" x="533.5" y="369.3">mérsékelten n.</text>
<rect x="506.5" y="378.5" width="20" height="14" fill="#80ffc0" stroke="#000" stroke-width="1"/>
<text class="l" x="533.5" y="389.3">enyhén nedves</text>
<rect x="506.5" y="398.5" width="20" height="14" fill="#d6ff55" stroke="#000" stroke-width="1"/>
<text class="l" x="533.5" y="409.3">enyhén száraz</text>
<rect x="506.5" y="418.5" width="20" height="14" fill="#ffdd00" stroke="#000" stroke-width="1"/>
<text class="l" x="533.5" y="429.3">mérsékelten sz.</text>
<rect x="506.5" y="438.5" width="20" height="14" fill="#ff8000" stroke="#000" stroke-width="1"/>
<text class="l" x="533.5" y="449.3">nagyon száraz</text>
<rect x="506.5" y="458.5" width="20" height="14" fill="#ff0000" stroke="#000" stroke-width="1"/>
<text class="l" x="533.5" y="469.3">extrém száraz</text>
<text class="t" x="15.3" y="26.9">SPI3</text>
<text class="t" x="625.3" y="26.9" text-anchor="end">2025. augusztus</text>
<defs><linearGradient id="lg" gradientUnits="userSpaceOnUse" x1="13" y1="0" x2="55" y2="0"><stop offset="0" stop-color="#469fdc"/><stop offset="0.5" stop-color="#25b4a8"/><stop offset="1" stop-color="#30d284"/></linearGradient></defs>
<g fill="none" stroke="url(#lg)" stroke-linecap="round">
<path d="M37.23,448.43 L37.28,448.83 L37.27,449.25 L37.22,449.69 L37.12,450.13 L36.97,450.58 L36.76,451.02 L36.50,451.46 L36.19,451.88 L35.82,452.28 L35.41,452.65 L34.94,452.99 L34.42,453.28 L33.87,453.54 L33.27,453.79 L32.62,454.00 L31.94,454.14 L31.22,454.22 L30.48,454.23 L29.71,454.16 L28.94,454.01 L28.16,453.78 L27.38,453.47 L26.65,453.05 L25.94,452.55 L25.27,451.97 L24.64,451.32 L24.07,450.59 L23.55,449.80 L23.09,448.95 L22.71,448.03 L22.41,447.07 L22.32,446.08 L22.35,445.07 L22.47,444.06 L22.68,443.06 L22.98,442.08 L23.36,441.12 L23.83,440.18 L24.39,439.29 L25.02,438.45 L25.82,437.76 L26.68,437.14 L27.58,436.61 L28.52,436.16 L29.50,435.79 L30.49,435.52 L31.51,435.33 L32.53,435.23 L33.55,435.22 L34.56,435.33 L35.54,435.55 L36.50,435.84 L37.42,436.21 L38.30,436.66 L39.12,437.18 L39.89,437.77 L40.60,438.41 L41.25,439.11 L41.81,439.87 L42.30,440.66 L42.71,441.49 L43.05,442.34 L43.31,443.21 L43.48,444.08 L43.58,444.96 L43.60,445.84 L43.54,446.70 L43.92,447.59 L44.33,448.55 L44.66,449.59 L44.88,450.71 L44.98,451.88 L44.96,453.09 L44.81,454.34 L44.53,455.60 L44.11,456.88 L43.57,458.17 L42.88,459.44 L42.04,460.68 L41.06,461.86 L39.93,462.97" stroke-width="1.1"/>
<path d="M37.01,451.04 L36.76,451.51 L36.46,451.97 L36.10,452.41 L35.68,452.82 L35.21,453.21 L34.69,453.55 L34.12,453.85 L33.50,454.13 L32.83,454.40 L32.11,454.61 L31.34,454.75 L30.54,454.81 L29.71,454.80 L28.87,454.69 L28.01,454.50 L27.15,454.21 L26.30,453.82 L25.47,453.34 L24.67,452.77 L23.92,452.10 L23.21,451.35 L22.56,450.51 L21.97,449.59 L21.47,448.60 L21.05,447.54 L20.81,446.42 L20.78,445.28 L20.86,444.13 L21.04,442.99 L21.32,441.85 L21.70,440.74 L22.19,439.65 L22.77,438.60 L23.45,437.60 L24.28,436.72 L25.21,435.95 L26.21,435.26 L27.26,434.67 L28.36,434.17 L29.49,433.78 L30.66,433.48 L31.84,433.28 L33.03,433.19 L34.23,433.23 L35.40,433.42 L36.55,433.70 L37.66,434.09 L38.73,434.56 L39.74,435.12 L40.69,435.77 L41.58,436.49 L42.39,437.28 L43.12,438.14 L43.75,439.06 L44.30,440.03 L44.75,441.03 L45.11,442.05 L45.38,443.10 L45.55,444.15 L45.63,445.21 L45.62,446.25 L45.73,447.29 L46.09,448.39 L46.34,449.55 L46.48,450.77 L46.50,452.03 L46.39,453.32 L46.16,454.63 L45.79,455.94 L45.28,457.25 L44.65,458.56 L43.89,459.85 L42.98,461.09 L41.94,462.27 L40.75,463.37 L39.44,464.38 L38.00,465.28 L36.45,466.07" stroke-width="1.1"/>
<path d="M34.97,453.78 L34.38,454.13 L33.75,454.42 L33.06,454.76 L32.31,455.04 L31.51,455.24 L30.66,455.37 L29.77,455.41 L28.86,455.35 L27.92,455.20 L26.98,454.94 L26.03,454.59 L25.09,454.14 L24.17,453.58 L23.29,452.92 L22.44,452.15 L21.66,451.27 L20.95,450.31 L20.31,449.24 L19.77,448.10 L19.32,446.88 L19.24,445.61 L19.26,444.32 L19.40,443.03 L19.66,441.75 L20.03,440.48 L20.52,439.24 L21.12,438.03 L21.83,436.87 L22.66,435.79 L23.67,434.86 L24.75,434.02 L25.90,433.28 L27.11,432.65 L28.38,432.12 L29.68,431.70 L31.02,431.40 L32.38,431.21 L33.75,431.15 L35.11,431.29 L36.45,431.56 L37.75,431.94 L39.01,432.42 L40.21,433.02 L41.35,433.71 L42.42,434.49 L43.41,435.36 L44.31,436.31 L45.10,437.35 L45.79,438.45 L46.37,439.59 L46.85,440.77 L47.22,441.97 L47.48,443.20 L47.63,444.43 L47.67,445.66 L47.60,446.88 L47.91,448.11 L48.09,449.40 L48.16,450.74 L48.10,452.10 L47.92,453.48 L47.59,454.87 L47.13,456.25 L46.54,457.61 L45.81,458.94 L44.97,460.25 L44.00,461.51 L42.88,462.69 L41.64,463.79 L40.27,464.79 L38.79,465.68 L37.20,466.45 L35.52,467.07 L33.75,467.55 L31.90,468.00 L29.98,468.28" stroke-width="1.1"/>
<path d="M30.82,455.89 L29.88,455.99 L28.91,455.99 L27.90,455.88 L26.88,455.67 L25.85,455.35 L24.80,454.93 L23.76,454.40 L22.75,453.75 L21.78,452.97 L20.86,452.08 L20.01,451.08 L19.24,449.96 L18.57,448.74 L18.00,447.43 L17.72,446.03 L17.69,444.62 L17.78,443.19 L18.00,441.76 L18.35,440.34 L18.83,438.94 L19.43,437.58 L20.16,436.26 L21.01,435.00 L22.06,433.89 L23.21,432.89 L24.45,431.99 L25.77,431.21 L27.15,430.54 L28.59,429.99 L30.07,429.57 L31.59,429.29 L33.13,429.13 L34.68,429.18 L36.20,429.41 L37.70,429.77 L39.15,430.26 L40.54,430.87 L41.88,431.59 L43.13,432.43 L44.30,433.37 L45.38,434.40 L46.34,435.54 L47.18,436.75 L47.91,438.03 L48.51,439.35 L49.00,440.72 L49.36,442.10 L49.59,443.51 L49.70,444.92 L49.69,446.32 L49.79,447.72 L49.92,449.15 L49.92,450.61 L49.79,452.09 L49.52,453.57 L49.12,455.05 L48.58,456.50 L47.89,457.92 L47.07,459.30 L46.15,460.64 L45.09,461.92 L43.90,463.13 L42.59,464.23 L41.17,465.23 L39.63,466.11 L38.00,466.86 L36.28,467.47 L34.49,467.93 L32.63,468.33 L30.69,468.63 L28.70,468.75 L26.66,468.69 L24.60,468.43" stroke-width="1.1"/>
<path d="M24.60,455.71 L23.45,455.22 L22.31,454.59 L21.21,453.83 L20.16,452.93 L19.17,451.89 L18.27,450.74 L17.46,449.46 L16.75,448.06 L16.24,446.57 L16.14,445.02 L16.17,443.46 L16.35,441.88 L16.66,440.32 L17.12,438.76 L17.72,437.24 L18.46,435.77 L19.34,434.34 L20.38,433.03 L21.60,431.87 L22.92,430.81 L24.33,429.87 L25.82,429.06 L27.38,428.37 L29.00,427.83 L30.67,427.42 L32.37,427.16 L34.10,427.08 L35.81,427.26 L37.50,427.60 L39.14,428.07 L40.73,428.68 L42.26,429.43 L43.70,430.31 L45.06,431.30 L46.33,432.41 L47.47,433.63 L48.47,434.95 L49.35,436.35 L50.09,437.82 L50.70,439.33 L51.17,440.88 L51.51,442.45 L51.70,444.03 L51.75,445.62 L51.72,447.19 L51.81,448.77 L51.76,450.38 L51.56,451.98 L51.22,453.58 L50.74,455.16 L50.11,456.70 L49.34,458.20 L48.43,459.64 L47.40,461.01 L46.27,462.33 L45.00,463.56 L43.62,464.68 L42.13,465.69 L40.53,466.57 L38.85,467.31 L37.08,467.91 L35.25,468.35 L33.37,468.68 L31.43,469.00 L29.42,469.14 L27.38,469.10 L25.31,468.86 L23.23,468.44 L21.17,467.81 L19.18,466.93 L17.31,465.78" stroke-width="1.1"/>
<path d="M17.39,451.57 L16.44,450.24 L15.60,448.78 L14.89,447.20 L14.63,445.54 L14.59,443.84 L14.71,442.13 L14.98,440.41 L15.41,438.71 L15.99,437.03 L16.73,435.39 L17.61,433.81 L18.65,432.29 L19.92,430.96 L21.30,429.74 L22.79,428.64 L24.38,427.67 L26.06,426.84 L27.81,426.16 L29.62,425.63 L31.48,425.25 L33.37,425.04 L35.27,425.13 L37.15,425.42 L38.99,425.87 L40.77,426.48 L42.50,427.23 L44.14,428.13 L45.69,429.17 L47.14,430.34 L48.48,431.62 L49.66,433.05 L50.69,434.57 L51.59,436.16 L52.33,437.81 L52.93,439.51 L53.37,441.25 L53.65,443.01 L53.78,444.77 L53.75,446.53 L53.76,448.27 L53.66,450.03 L53.41,451.78 L53.00,453.50 L52.44,455.20 L51.73,456.84 L50.87,458.43 L49.88,459.94 L48.75,461.36 L47.53,462.73 L46.18,463.99 L44.72,465.14 L43.16,466.16 L41.49,467.05 L39.75,467.79 L37.93,468.38 L36.06,468.81 L34.14,469.08 L32.18,469.37 L30.16,469.54 L28.11,469.52 L26.03,469.31 L23.94,468.90 L21.87,468.31 L19.83,467.51 L17.93,466.41 L16.13,465.13 L14.42,463.68 L12.84,462.07 L11.39,460.31" stroke-width="1.1"/>
</g>
</svg></body></html>
